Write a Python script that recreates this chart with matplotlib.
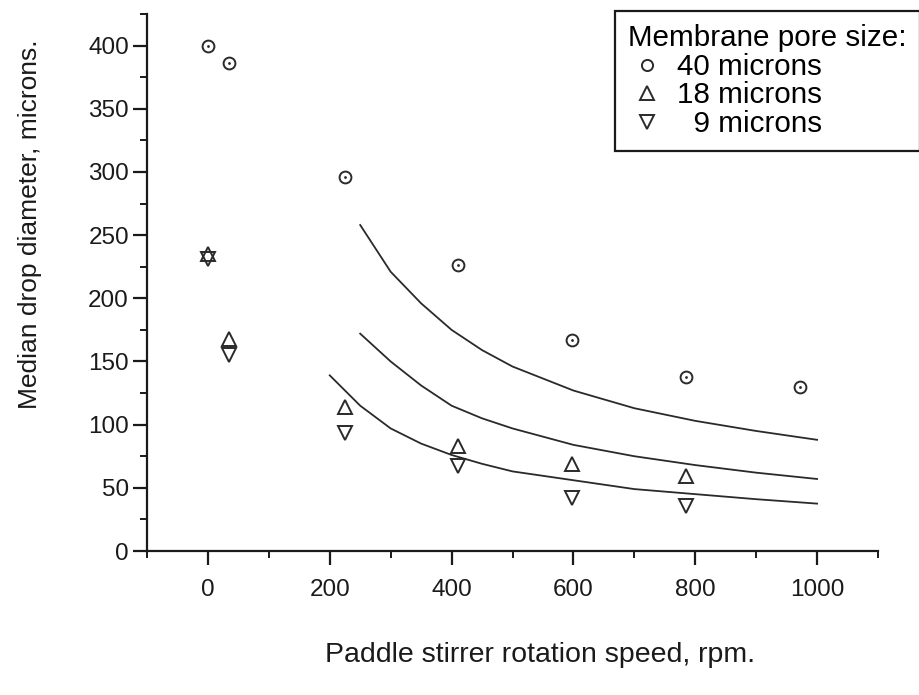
import matplotlib
matplotlib.use("Agg")
import matplotlib.pyplot as plt
from matplotlib.ticker import MultipleLocator
from matplotlib.lines import Line2D

plt.rcParams['font.family'] = ['Liberation Sans', 'DejaVu Sans']

# Data
rpm_pts = [0, 35, 225, 410, 598, 785, 972]
d_40 = [400, 386, 296, 226, 167, 138, 130]
rpm_small = [0, 35, 225, 410, 598, 785]
d_18 = [235, 168, 114, 83, 69, 59]
d_9 = [231, 155, 93, 67, 42, 36]

# Fitted curves
curve_x_top = [250, 300, 350, 400, 450, 500, 600, 700, 800, 900, 1000]
curve_top = [258, 221, 196, 175, 159, 146, 127, 113, 103, 95, 88]
curve_x_mid = [250, 300, 350, 400, 450, 500, 600, 700, 800, 900, 1000]
curve_mid = [172, 150, 131, 115, 105, 97, 84, 75, 68, 62, 57]
curve_x_bot = [200, 250, 300, 350, 400, 450, 500, 600, 700, 800, 900, 1000]
curve_bot = [139, 115, 97, 85, 76, 69, 63, 56, 49, 45, 41, 37.5]

labels = ["40 microns", "18 microns", "  9 microns"]
legend_title = "Membrane pore size:"
xlabel = "Paddle stirrer rotation speed, rpm."
ylabel = "Median drop diameter, microns."

ink = "#2a2a2a"
axcol = "#1a1a1a"

fig = plt.figure(figsize=(9.19, 6.95), dpi=100)
ax = fig.add_axes([147/919, 1-551/695, (878-147)/919, (551-14)/695])

lw = 1.3
ax.plot(curve_x_top, curve_top, color=ink, lw=lw)
ax.plot(curve_x_mid, curve_mid, color=ink, lw=lw)
ax.plot(curve_x_bot, curve_bot, color=ink, lw=lw)

mk = dict(linestyle='none', markerfacecolor='none', markeredgecolor=ink, markeredgewidth=1.4)
ax.plot(rpm_pts, d_40, marker='o', markersize=8.5, **mk)
ax.plot(rpm_pts, d_40, marker='.', markersize=2, linestyle='none', color=ink)
ax.plot(rpm_small, d_18, marker='^', markersize=10, **mk)
ax.plot(rpm_small, d_9, marker='v', markersize=10, **mk)

ax.set_xlim(-100, 1100)
ax.set_ylim(0, 425)
ax.xaxis.set_major_locator(MultipleLocator(200))
ax.xaxis.set_minor_locator(MultipleLocator(100))
ax.yaxis.set_major_locator(MultipleLocator(50))
ax.yaxis.set_minor_locator(MultipleLocator(25))

for s in ['top', 'right']:
    ax.spines[s].set_visible(False)
for s in ['left', 'bottom']:
    ax.spines[s].set_linewidth(1.6)
    ax.spines[s].set_color(axcol)

ax.tick_params(which='major', direction='out', length=10, width=1.6, color=axcol,
               labelsize=17.5, labelcolor=axcol)
ax.tick_params(which='minor', direction='out', length=5, width=1.4, color=axcol)
ax.tick_params(axis='x', which='major', pad=10)
ax.tick_params(axis='y', which='major', pad=3)

ax.set_xlabel(xlabel, fontsize=20.5, labelpad=30, color=axcol, ha='left')
ax.xaxis.label.set_x((325 - 147) / 731)
ax.set_ylabel(ylabel, fontsize=19, labelpad=33, color=axcol)
ax.yaxis.label.set_y((551 - 224) / 537)

handles = [
    Line2D([], [], marker='o', markersize=8, **mk),
    Line2D([], [], marker='^', markersize=10, **mk),
    Line2D([], [], marker='v', markersize=10, **mk),
]
leg = fig.legend(handles, labels, title=legend_title, loc='upper right',
                 bbox_to_anchor=(1.0 + 1/919, 1 - 11/695), fontsize=21.3, title_fontsize=21.3,
                 frameon=True, fancybox=False, framealpha=1, edgecolor=axcol,
                 handlelength=1.3, handletextpad=0.36, borderpad=0.45, labelspacing=0.02,
                 borderaxespad=0.0, alignment='left')
leg.get_frame().set_linewidth(1.6)

fig.savefig("out.png", dpi=100)
